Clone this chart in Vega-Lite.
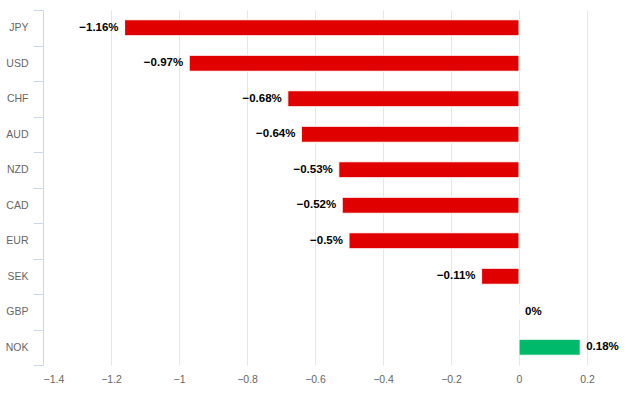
{
  "$schema": "https://vega.github.io/schema/vega-lite/v6.json",
  "width": 578,
  "height": 355,
  "autosize": {"type": "none"},
  "padding": {"left": 43, "top": 10, "right": 11, "bottom": 30},
  "background": "white",
  "config": {"view": {"stroke": null}, "font": "Liberation Sans"},
  "data": {
    "values": [
      {"currency": "JPY", "change": -1.16, "label": "−1.16%"},
      {"currency": "USD", "change": -0.97, "label": "−0.97%"},
      {"currency": "CHF", "change": -0.68, "label": "−0.68%"},
      {"currency": "AUD", "change": -0.64, "label": "−0.64%"},
      {"currency": "NZD", "change": -0.53, "label": "−0.53%"},
      {"currency": "CAD", "change": -0.52, "label": "−0.52%"},
      {"currency": "EUR", "change": -0.5, "label": "−0.5%"},
      {"currency": "SEK", "change": -0.11, "label": "−0.11%"},
      {"currency": "GBP", "change": 0, "label": "0%"},
      {"currency": "NOK", "change": 0.18, "label": "0.18%"}
    ]
  },
  "encoding": {
    "y": {
      "field": "currency",
      "type": "nominal",
      "sort": null,
      "scale": {"paddingInner": 0, "paddingOuter": 0},
      "axis": {
        "title": null,
        "tickBand": "extent",
        "tickSize": 10,
        "tickColor": "#ccd6eb",
        "domainColor": "#ccd6eb",
        "labelColor": "#666666",
        "labelFontSize": 10.5,
        "labelPadding": 5,
        "grid": false
      }
    },
    "x": {
      "field": "change",
      "type": "quantitative",
      "scale": {"domain": [-1.4, 0.3], "nice": false, "zero": true},
      "axis": {
        "title": null,
        "values": [-1.4, -1.2, -1, -0.8, -0.6, -0.4, -0.2, 0, 0.2],
        "format": "~g",
        "grid": true,
        "gridColor": "#e6e6e6",
        "domain": false,
        "ticks": false,
        "labelColor": "#666666",
        "labelFontSize": 10.5,
        "labelPadding": 9
      }
    }
  },
  "layer": [
    {
      "mark": {"type": "bar", "size": 16, "stroke": "white", "strokeWidth": 1},
      "encoding": {
        "color": {
          "condition": {"test": "datum.change > 0", "value": "#00b96b"},
          "value": "#e10000"
        }
      }
    },
    {
      "transform": [{"filter": "datum.change < 0"}],
      "mark": {"type": "text", "align": "right", "dx": -6, "fontWeight": "bold", "fontSize": 11.5, "color": "#000000"},
      "encoding": {"text": {"field": "label"}}
    },
    {
      "transform": [{"filter": "datum.change >= 0"}],
      "mark": {"type": "text", "align": "left", "dx": 6, "fontWeight": "bold", "fontSize": 11.5, "color": "#000000"},
      "encoding": {"text": {"field": "label"}}
    }
  ]
}
